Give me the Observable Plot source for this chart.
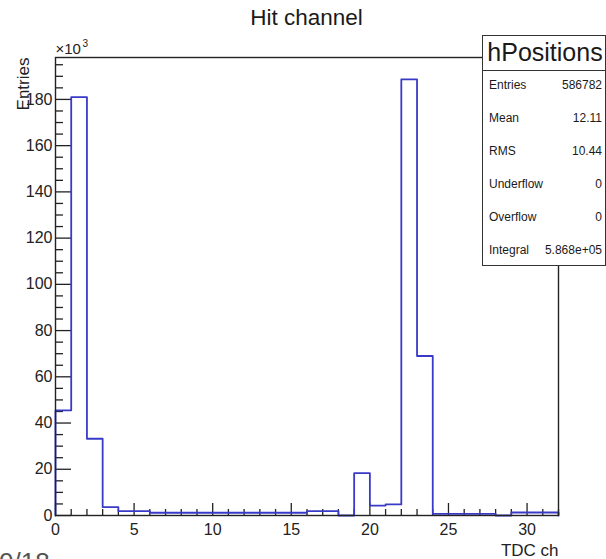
<!DOCTYPE html>
<html>
<head>
<meta charset="utf-8">
<script src="https://cdn.jsdelivr.net/npm/d3@7"></script>
<script src="https://cdn.jsdelivr.net/npm/@observablehq/plot@0.6"></script>
<style>
  html, body { margin: 0; padding: 0; background: #fff; overflow: hidden; }
  #wrap { position: relative; width: 606px; height: 559px; overflow: hidden;
          font-family: "Liberation Sans", Arial, Helvetica, sans-serif; color: #1a1a1a; }
  #wrap svg { position: absolute; left: 0; top: 0; }
  .abs { position: absolute; line-height: 1; white-space: nowrap; }
  #stats { position: absolute; left: 482px; top: 35px; width: 124px; height: 231px;
           border: 1.5px solid #333; background: #fff; box-sizing: border-box; }
  #sep { position: absolute; left: 482px; top: 69.5px; width: 124px; height: 0;
         border-top: 1.5px solid #333; }
</style>
</head>
<body>
<div id="wrap"></div>
<script>
// ---- data ----
const title = "Hit channel";
const histName = "hPositions";
const xLabel = "TDC ch";
const yLabel = "Entries";
const yExpBase = "×10";
const yExpPower = "3";
// counts per TDC channel bin [i, i+1), i = 0..31
const channels = d3.range(0, 32);
const counts = [45500, 181000, 33200, 3600, 1900, 1900, 1200, 1200, 1200, 1200,
                1200, 1200, 1200, 1200, 1200, 1200, 1900, 1900, 0, 18300,
                4300, 4800, 188700, 69000, 700, 700, 700, 700, 0, 1300,
                1300, 1300];
const xMajorTicks = [0, 5, 10, 15, 20, 25, 30];
const yMajorTicks = [0, 20000, 40000, 60000, 80000, 100000, 120000, 140000, 160000, 180000];
const statLabels = ["Entries", "Mean", "RMS", "Underflow", "Overflow", "Integral"];
const statValues = ["586782", "12.11", "10.44", "0", "0", "5.868e+05"];
const pageNote = "0/18";

// ---- layout ----
const W = 606, H = 559, mL = 55, mR = 48, mT = 57, mB = 44;
const fw = W - mL - mR, fh = H - mT - mB;
const xMax = 32;
const yMax = d3.max(counts) * 1.05;
const xMinorTicks = d3.range(0, xMax + 1).filter(d => d % 5 !== 0);
const yMinorTicks = d3.range(0, yMax, 5000).filter(d => d % 20000 !== 0);

const steps = [{x: channels[0], y: 0}]
  .concat(channels.map((c, i) => ({x: c, y: counts[i]})))
  .concat([{x: xMax, y: counts[counts.length - 1]}, {x: xMax, y: 0}]);

const ink = "#222";
const chart = Plot.plot({
  width: W, height: H,
  marginLeft: mL, marginRight: mR, marginTop: mT, marginBottom: mB,
  x: {domain: [0, xMax], label: null},
  y: {domain: [0, yMax], label: null},
  style: {fontFamily: '"Liberation Sans", Arial, Helvetica, sans-serif', color: ink, background: "transparent", overflow: "visible"},
  marks: [
    Plot.axisX({ticks: xMajorTicks, tickSize: 0, tickPadding: 8, fontSize: 16, label: null}),
    Plot.axisY({ticks: yMajorTicks, tickSize: 0, tickPadding: 3, fontSize: 16, label: null,
                tickFormat: d => d / 1000}),
    Plot.tickX(xMinorTicks, {x: d => d, insetTop: fh - 6, stroke: ink, strokeWidth: 1.3}),
    Plot.tickX(xMajorTicks, {x: d => d, insetTop: fh - 12, stroke: ink, strokeWidth: 1.3}),
    Plot.tickY(yMinorTicks, {y: d => d, insetRight: fw - 8, stroke: ink, strokeWidth: 1.3}),
    Plot.tickY(yMajorTicks, {y: d => d, insetRight: fw - 16, stroke: ink, strokeWidth: 1.3}),
    Plot.line(steps, {x: "x", y: "y", curve: "step-after", stroke: "#3a3ac8", strokeWidth: 1.8}),
    Plot.frame({stroke: ink, strokeWidth: 1.4}),
    Plot.text([yLabel], {text: d => d, frameAnchor: "top-left", rotate: -90, textAnchor: "end",
                         lineAnchor: "bottom", dx: -27, fontSize: 17, fill: ink}),
    Plot.text([xLabel], {text: d => d, frameAnchor: "bottom-right", textAnchor: "end",
                         lineAnchor: "bottom", dy: 40, fontSize: 17, fill: ink}),
    Plot.text([yExpBase], {text: d => d, frameAnchor: "top-left", textAnchor: "start",
                           lineAnchor: "bottom", dy: -4, fontSize: 15, fill: ink}),
    Plot.text([yExpPower], {text: d => d, frameAnchor: "top-left", textAnchor: "start",
                            lineAnchor: "bottom", dx: 27, dy: -11, fontSize: 10, fill: ink})
  ]
});

const wrap = document.getElementById("wrap");
wrap.appendChild(chart);

function addText(txt, opts) {
  const d = document.createElement("div");
  d.className = "abs";
  d.textContent = txt;
  const fs = opts.fs;
  d.style.fontSize = fs + "px";
  d.style.top = (opts.baseline - 0.8465 * fs) + "px";
  if (opts.left != null) d.style.left = opts.left + "px";
  if (opts.right != null) { d.style.right = (W - opts.right) + "px"; d.style.textAlign = "right"; }
  if (opts.center != null) { d.style.left = (opts.center - 200) + "px"; d.style.width = "400px"; d.style.textAlign = "center"; }
  if (opts.color) d.style.color = opts.color;
  wrap.appendChild(d);
  return d;
}

// title
addText(title, {fs: 22.5, baseline: 26, center: 306.5});

// stats box
const box = document.createElement("div"); box.id = "stats"; wrap.appendChild(box);
const sep = document.createElement("div"); sep.id = "sep"; wrap.appendChild(sep);
addText(histName, {fs: 25, baseline: 61.5, center: 545});
const rowBase = [89.3, 122.5, 155.3, 188.3, 221, 254];
statLabels.forEach((s, i) => {
  addText(s, {fs: 12, baseline: rowBase[i], left: 489});
  addText(statValues[i], {fs: 12, baseline: rowBase[i], right: 602});
});

// cut-off page note at bottom-left (also cut off in the reference)
addText(pageNote, {fs: 26, baseline: 570.6, left: -1, color: "#555"});
</script>
</body>
</html>
